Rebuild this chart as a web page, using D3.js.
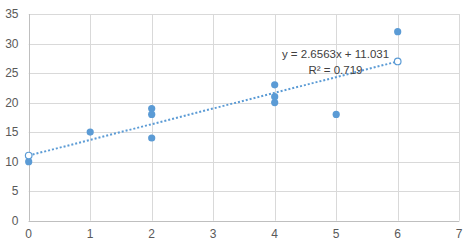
<!DOCTYPE html>
<html><head><meta charset="utf-8">
<script src="https://cdn.jsdelivr.net/npm/d3@7"></script>
<style>body{margin:0;background:#fff}svg{display:block}text{font-family:"Liberation Sans",Arial,sans-serif}</style>
</head><body><svg id="c" width="472" height="247"></svg>
<script>
const xValues = [0, 1, 2, 2, 2, 4, 4, 4, 5, 6];
const yValues = [10, 15, 19, 18, 14, 23, 21, 20, 18, 32];
const xTicks = [0, 1, 2, 3, 4, 5, 6, 7];
const yTicks = [0, 5, 10, 15, 20, 25, 30, 35];
const trendSlope = [2.6563];
const trendIntercept = [11.031];
const trendRange = [0, 6];
const eqLabels = ["y = 2.6563x + 11.031", "R² = 0.719"];

const svg = d3.select("#c");
const x = d3.scaleLinear().domain([0, 7]).range([28.7, 459.2]);
const y = d3.scaleLinear().domain([0, 35]).range([220.7, 14]);
const blue = "#5B9BD5";
const grid = "#d9d9d9";

// gridlines
svg.append("g").selectAll("line.h").data(yTicks).join("line")
  .attr("x1", x(0)).attr("x2", x(7)).attr("y1", d => Math.round(y(d)) + 0.5).attr("y2", d => Math.round(y(d)) + 0.5)
  .attr("stroke", grid).attr("stroke-width", 1);
svg.append("g").selectAll("line.v").data(xTicks).join("line")
  .attr("y1", y(0)).attr("y2", y(35)).attr("x1", d => Math.round(x(d)) + 0.5).attr("x2", d => Math.round(x(d)) + 0.5)
  .attr("stroke", grid).attr("stroke-width", 1);

// axis lines
svg.append("line").attr("x1", x(0)).attr("x2", x(7)).attr("y1", Math.round(y(0)) + 0.5).attr("y2", Math.round(y(0)) + 0.5).attr("stroke", "#bfbfbf");
svg.append("line").attr("x1", Math.round(x(0)) + 0.5).attr("x2", Math.round(x(0)) + 0.5).attr("y1", y(0)).attr("y2", y(35)).attr("stroke", "#bfbfbf");

// tick labels
svg.append("g").selectAll("text").data(yTicks).join("text")
  .attr("x", 18.5).attr("y", d => y(d) + 4.2).attr("text-anchor", "end")
  .attr("font-size", 12).attr("fill", "#595959").text(d => d);
svg.append("g").selectAll("text").data(xTicks).join("text")
  .attr("x", d => x(d)).attr("y", 238).attr("text-anchor", "middle")
  .attr("font-size", 12).attr("fill", "#595959").text(d => d);

// trendline
const tr = trendRange.map(v => [v, trendIntercept[0] + trendSlope[0] * v]);
svg.append("line")
  .attr("x1", x(tr[0][0])).attr("y1", y(tr[0][1])).attr("x2", x(tr[1][0])).attr("y2", y(tr[1][1]))
  .attr("stroke", blue).attr("stroke-width", 2).attr("stroke-dasharray", "2,2");

// data points
svg.append("g").selectAll("circle").data(xValues.map((v, i) => [v, yValues[i]])).join("circle")
  .attr("cx", d => x(d[0])).attr("cy", d => y(d[1])).attr("r", 3.6).attr("fill", blue);

// trend endpoint markers (hollow)
svg.append("g").selectAll("circle").data(tr).join("circle")
  .attr("cx", d => x(d[0])).attr("cy", d => y(d[1])).attr("r", 3.3)
  .attr("fill", "#fff").attr("stroke", blue).attr("stroke-width", 1.2);

// equation label
svg.append("g").selectAll("text").data(eqLabels).join("text")
  .attr("x", 335.5).attr("y", (d, i) => 58 + i * 15.5).attr("text-anchor", "middle")
  .attr("font-size", 11.5).attr("fill", "#404040").text(d => d);
</script></body></html>
